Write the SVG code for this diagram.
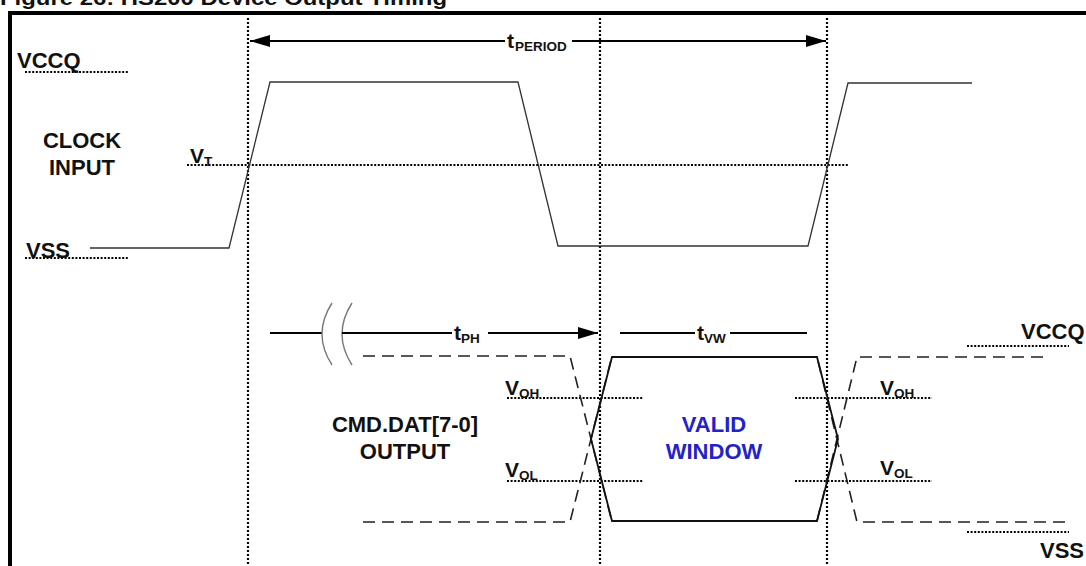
<svg xmlns="http://www.w3.org/2000/svg" width="1086" height="566" viewBox="0 0 1086 566">
<style>
text { font-family: "Liberation Sans", Arial, sans-serif; fill: #111; }
.lbl { font-size: 22px; font-weight: bold; }
.big { font-size: 21px; font-weight: bold; }
.sub { font-size: 13.5px; font-weight: bold; }
.blue { fill: #2222c8; }
.wave { fill: none; stroke: #333; stroke-width: 1.3; }
.solid { fill: none; stroke: #111; stroke-width: 1.8; }
.dash { fill: none; stroke: #222; stroke-width: 1.6; stroke-dasharray: 12 7; }
.vdot { fill: none; stroke: #000; stroke-width: 2.2; stroke-dasharray: 2 2; }
.hdot { fill: none; stroke: #000; stroke-width: 1.8; stroke-dasharray: 2 1.6; }
.arr { fill: none; stroke: #000; stroke-width: 2.2; }
.arc { fill: none; stroke: #777; stroke-width: 1.4; }
</style>
<defs>
<marker id="ah" viewBox="0 0 20 12" refX="20" refY="6" markerWidth="20" markerHeight="12" markerUnits="userSpaceOnUse" orient="auto-start-reverse">
<path d="M0,0 L20,6 L0,12 Z" fill="#000"/>
</marker>
</defs>
<rect width="1086" height="566" fill="#fff"/>

<g id="title">
<text x="0" y="5" font-family="Open Sans, Liberation Sans, sans-serif" font-size="20" font-weight="bold" textLength="447" lengthAdjust="spacingAndGlyphs">Figure 26: HS200 Device Output Timing</text>
</g>

<g id="frame">
<rect x="8" y="11" width="1078" height="4" fill="#000"/>
<rect x="8" y="11" width="4" height="555" fill="#000"/>
</g>

<g id="guides">
<line class="vdot" x1="248" y1="18" x2="248" y2="566"/>
<line class="vdot" x1="600" y1="18" x2="600" y2="566"/>
<line class="vdot" x1="827" y1="18" x2="827" y2="566"/>
<line class="hdot" x1="187" y1="165" x2="849" y2="165"/>
<line class="hdot" x1="25" y1="72" x2="128" y2="72"/>
<line class="hdot" x1="25" y1="258" x2="128" y2="258"/>
<line class="hdot" x1="507" y1="398" x2="643" y2="398"/>
<line class="hdot" x1="795" y1="398" x2="932" y2="398"/>
<line class="hdot" x1="507" y1="481" x2="643" y2="481"/>
<line class="hdot" x1="795" y1="481" x2="932" y2="481"/>
<line class="hdot" x1="967" y1="346" x2="1069" y2="346"/>
<line class="hdot" x1="967" y1="532" x2="1069" y2="532"/>
</g>

<g id="clock-labels">
<text class="lbl" x="17" y="68">VCCQ</text>
<text class="lbl" x="26" y="258">VSS</text>
<text class="lbl" x="82" y="148" text-anchor="middle">CLOCK</text>
<text class="lbl" x="82" y="175" text-anchor="middle">INPUT</text>
<text class="big" x="190" y="163">V</text>
<text class="sub" x="204" y="166">T</text>
</g>

<g id="clock-wave">
<polyline class="wave" points="90,248 229,248 270,82 518,82 558,246 808,246 848,83 972,83"/>
</g>

<g id="data-labels">
<text class="lbl" x="405" y="432" text-anchor="middle">CMD.DAT[7-0]</text>
<text class="lbl" x="405" y="459" text-anchor="middle">OUTPUT</text>
<text class="big" x="505" y="395">V</text>
<text class="sub" x="519" y="398">OH</text>
<text class="big" x="505" y="477">V</text>
<text class="sub" x="519" y="480">OL</text>
<text class="big" x="880" y="395">V</text>
<text class="sub" x="894" y="398">OH</text>
<text class="big" x="880" y="475">V</text>
<text class="sub" x="894" y="478">OL</text>
<text class="lbl" x="1021" y="339">VCCQ</text>
<text class="lbl" x="1040" y="558">VSS</text>
</g>

<g id="data-wave">
<path class="dash" d="M363,356 L570,356 L612,522"/>
<path class="dash" d="M363,522 L570,522 L612,356"/>
<path class="dash" d="M1043,357 L857,357 L817,521"/>
<path class="dash" d="M1065,522 L857,522 L817,357"/>
<path class="solid" d="M591,439 L612,357 L817,357 L838,439 L817,521 L612,521 Z"/>
</g>

<g id="valid-window">
<text class="lbl blue" x="714" y="432" text-anchor="middle">VALID</text>
<text class="lbl blue" x="714" y="459" text-anchor="middle">WINDOW</text>
</g>

<g id="connectors">
<line class="arr" x1="505" y1="41" x2="250" y2="41" marker-end="url(#ah)"/>
<line class="arr" x1="572" y1="41" x2="826" y2="41" marker-end="url(#ah)"/>
<text class="big" x="507" y="48">t</text>
<text class="sub" x="515" y="51">PERIOD</text>

<line class="arr" x1="270" y1="333" x2="322" y2="333" style="stroke-width:1.8"/>
<path class="arc" d="M332,303 Q312,334 332,365"/>
<path class="arc" d="M352,303 Q332,334 352,365"/>
<line class="arr" x1="342" y1="333" x2="452" y2="333" style="stroke-width:1.8"/>
<line class="arr" x1="488" y1="333" x2="598" y2="333" style="stroke-width:1.8" marker-end="url(#ah)"/>
<text class="big" x="454" y="340">t</text>
<text class="sub" x="461" y="343">PH</text>

<line class="arr" x1="620" y1="333" x2="695" y2="333" style="stroke-width:1.8"/>
<line class="arr" x1="730" y1="333" x2="807" y2="333" style="stroke-width:1.8"/>
<text class="big" x="697" y="340">t</text>
<text class="sub" x="704" y="343">VW</text>
</g>
</svg>
